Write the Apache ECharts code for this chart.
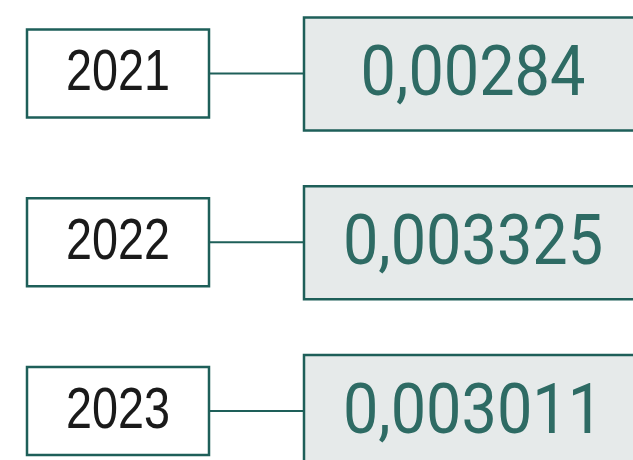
<!DOCTYPE html>
<html>
<head>
<meta charset="utf-8">
<script src="https://cdn.jsdelivr.net/npm/echarts@6/dist/echarts.min.js"></script>
<style>
  html, body { margin: 0; padding: 0; background: #fff; }
  #chart { width: 633px; height: 460px; }
</style>
</head>
<body>
<div id="chart"></div>
<script>
const years = ['2021', '2022', '2023'];
const values = [0.00284, 0.003325, 0.003011];

const teal = '#1e5f59';

function fmt(v) {
  return String(v).replace('.', ',');
}

let chart = echarts.init(document.getElementById('chart'));

function renderRow(params, api) {
  let cy = api.coord([0, api.value(1)])[1];
  let v = api.value(2);
  return {
    type: 'group',
    children: [
      {
        type: 'line',
        shape: {x1: 210, y1: cy, x2: 303, y2: cy},
        style: {stroke: teal, lineWidth: 2}
      },
      {
        type: 'rect',
        shape: {x: 27, y: cy - 44, width: 182, height: 88},
        style: {fill: '#fff', stroke: teal, lineWidth: 2.5}
      },
      {
        type: 'text',
        x: 118, y: cy + 1,
        scaleX: 0.82,
        style: {
          text: years[params.dataIndex],
          fontFamily: 'Liberation Sans', fontSize: 57,
          fill: '#1a1a1a', align: 'center', verticalAlign: 'middle'
        }
      },
      {
        type: 'rect',
        shape: {x: 304, y: cy - 56, width: 340, height: 113},
        style: {fill: '#e6eaea', stroke: teal, lineWidth: 2.5}
      },
      {
        type: 'text',
        x: 473, y: cy + 4,
        scaleX: 0.9,
        style: {
          text: fmt(v),
          fontFamily: 'Roboto', fontSize: 70,
          fill: '#2e6b64', align: 'center', verticalAlign: 'middle'
        }
      }
    ]
  };
}

let option = {
  animation: false,
  grid: {left: 0, right: 0, top: 73.5, bottom: 49},
  xAxis: {type: 'value', min: 0, max: 1, show: false},
  yAxis: {type: 'category', data: years, inverse: true, boundaryGap: false, show: false},
  series: [
    {
      type: 'custom',
      silent: true,
      clip: false,
      renderItem: renderRow,
      data: years.map((y, i) => [0, i, values[i]])
    }
  ]
};
chart.setOption(option);
</script>
</body>
</html>
